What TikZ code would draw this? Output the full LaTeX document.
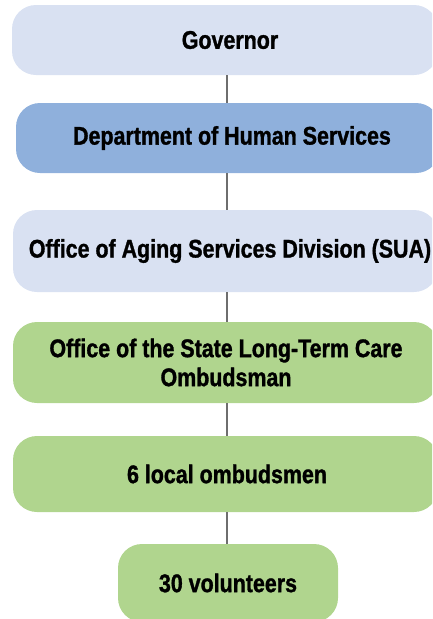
\documentclass[tikz,border=0pt]{standalone}
\usepackage{fontspec}
\newfontfamily\boxfont[FakeStretch=0.84,FakeBold=1.2]{Liberation Sans}
\definecolor{lavender}{RGB}{217,225,242}
\definecolor{midblue}{RGB}{143,176,220}
\definecolor{leafgreen}{RGB}{176,213,142}
\definecolor{linkgray}{RGB}{110,110,110}
\begin{document}
\begin{tikzpicture}[x=1pt,y=1pt,
  orgbox/.style={rectangle, rounded corners=24pt, draw=none, inner sep=0pt,
    font=\boxfont\bfseries\fontsize{25.5}{29}\selectfont, text=black, align=center},
  link/.style={draw=linkgray, line width=1.6pt}]
\useasboundingbox (0,0) rectangle (432,-619);
\clip (0,0) rectangle (432,-619);
\node[orgbox, fill=lavender, minimum width=426pt, minimum height=70pt] (gov) at (225,-40) {\hspace*{10pt}Governor};
\node[orgbox, fill=midblue, minimum width=424pt, minimum height=70pt] (dhs) at (228,-138) {\hspace*{8pt}Department of Human Services};
\node[orgbox, fill=lavender, minimum width=425pt, minimum height=82pt] (sua) at (225.5,-251) {\hspace*{9pt}Office of Aging Services Division (SUA)};
\node[orgbox, fill=leafgreen, minimum width=425pt, minimum height=81pt] (ltc) at (225.5,-362.5) {\hspace*{1pt}Office of the State Long-Term Care\\ \hspace*{1pt}Ombudsman};
\node[orgbox, fill=leafgreen, minimum width=425pt, minimum height=76pt] (loc) at (225.5,-474) {\hspace*{3pt}6 local ombudsmen};
\node[orgbox, fill=leafgreen, minimum width=220pt, minimum height=78pt] (vol) at (228,-583) {30 volunteers};
\draw[link] (gov.south -| 227,0) -- (dhs.north -| 227,0);
\draw[link] (dhs.south -| 227,0) -- (sua.north -| 227,0);
\draw[link] (sua.south -| 227,0) -- (ltc.north -| 227,0);
\draw[link] (ltc.south -| 227,0) -- (loc.north -| 227,0);
\draw[link] (loc.south -| 227,0) -- (vol.north -| 227,0);
\end{tikzpicture}
\end{document}
